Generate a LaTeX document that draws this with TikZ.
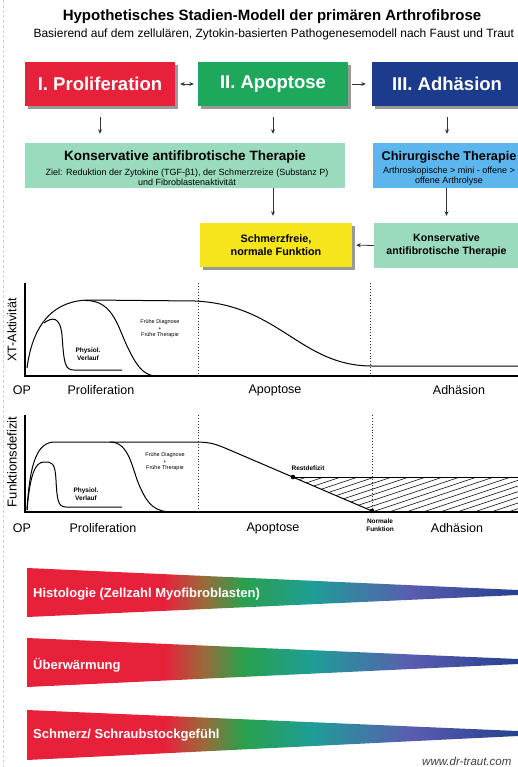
\documentclass[tikz,border=0pt]{standalone}
\usepackage{fontspec}
\setmainfont{Liberation Sans}
\usetikzlibrary{shadows,arrows.meta}
\definecolor{cred}{HTML}{E8213B}
\definecolor{cgreen}{HTML}{1DA85C}
\definecolor{cblue}{HTML}{1B3C8C}
\definecolor{cmint}{HTML}{9ADBBE}
\definecolor{clblue}{HTML}{5CB6EE}
\definecolor{cyellow}{HTML}{F6E51B}
\definecolor{gbrown}{HTML}{9A6A3A}
\definecolor{ggreen}{HTML}{2AA04C}
\definecolor{gteal}{HTML}{1E9E96}
\definecolor{gviolet}{HTML}{5A5DB0}
\definecolor{gdblue}{HTML}{27408F}
\pgfdeclarehorizontalshading{rainbowbar}{100bp}{color(0bp)=(cred); color(25bp)=(cred); color(39bp)=(cred); color(43bp)=(gbrown); color(47bp)=(ggreen); color(54bp)=(gteal); color(64bp)=(gviolet); color(75bp)=(gdblue); color(100bp)=(gdblue)}
\newcommand\fsz[2]{\fontsize{#1}{#2}\selectfont}
\begin{document}
\begin{tikzpicture}[x=1pt,y=-1pt,
  shad/.style={drop shadow={shadow xshift=3pt, shadow yshift=-3pt, fill=black!40, opacity=1}},
  stage/.style={shad, minimum width=150pt, minimum height=44pt, inner sep=0pt, text=white, font=\bfseries\fsz{18.5}{22}},
  therapy/.style={inner sep=0pt, align=center},
  arr/.style={-{Stealth[length=4.5pt,width=4pt]}, line width=0.8pt, draw=black!80},
  axisline/.style={line width=1.3pt},
  crv/.style={line width=1pt},
  vdot/.style={dotted, line width=0.9pt, black!80},
  axlab/.style={font=\fsz{12.5}{14}},
  tiny/.style={font=\fsz{5.5}{6.5}, align=center, inner sep=0pt},
  small/.style={font=\bfseries\fsz{6.5}{8}, align=center, inner sep=0pt},
  barlab/.style={anchor=west, text=white, font=\bfseries\fsz{13}{15}, inner sep=0pt}
]
\useasboundingbox (0,0) rectangle (518,767);
\clip (0,0) rectangle (518,767);
\fill[white] (0,0) rectangle (518,767);
\draw[gray!35, densely dashed] (3,0) -- (3,767);

% titles
\node[font=\bfseries\fsz{15}{18}] (title) at (272,17) {Hypothetisches Stadien-Modell der primären Arthrofibrose};
\node[font=\fsz{12}{14}, anchor=west] (sub) at (30,34) {Basierend auf dem zellulären, Zytokin-basierten Pathogenesemodell nach Faust und Traut};

% stage boxes
\node[stage, fill=cred] (s1) at (100,84) {I. Proliferation};
\node[stage, fill=cgreen] (s2) at (273,84) {II. Apoptose};
\node[stage, fill=cblue] (s3) at (447,84) {III. Adhäsion};
\draw[arr, {Stealth[length=4.5pt,width=4pt]}-{Stealth[length=4.5pt,width=4pt]}, shorten <=5pt, shorten >=4pt] (s1) -- (s2);
\draw[arr, shorten <=4pt, shorten >=6pt] (s2) -- (s3);

% therapy boxes
\node[therapy, fill=cmint, minimum width=320pt, minimum height=45pt] (k1) at (185,165.5) {};
\node[font=\bfseries\fsz{13.5}{16}] (k1t) at (185,157) {Konservative antifibrotische Therapie};
\node[font=\fsz{9}{10}, align=center] (k1s) at (187,177) {Ziel: Reduktion der Zytokine (TGF-β1), der Schmerzreize (Substanz P)\\und Fibroblastenaktivität};
\node[therapy, fill=clblue, minimum width=147pt, minimum height=45pt] (ch) at (446.5,165.5) {};
\node[font=\bfseries\fsz{12.7}{15}] (cht) at (449,157) {Chirurgische Therapie};
\node[font=\fsz{9}{10}, align=center] (chs) at (449,176) {Arthroskopische > mini - offene >\\offene Arthrolyse};

\draw[arr, shorten <=11pt, shorten >=9pt] (s1.south) -- (s1.south |- k1.north);
\draw[arr, shorten <=11pt, shorten >=9pt] (s2.south) -- (s2.south |- k1.north);
\draw[arr, shorten <=11pt, shorten >=9pt] (s3.south) -- (s3.south |- ch.north);

% result boxes
\node[shad, fill=cyellow, minimum width=152pt, minimum height=44pt, align=center, font=\bfseries\fsz{10.8}{13}] (yl) at (276,245) {Schmerzfreie,\\normale Funktion};
\node[fill=cmint, minimum width=145pt, minimum height=45pt, align=center, font=\bfseries\fsz{10.6}{13}] (k2) at (446.5,245.5) {Konservative\\antifibrotische Therapie};
\draw[arr, shorten >=7pt] (k1.south -| s2.south) -- (s2.south |- yl.north);
\draw[arr, shorten >=7pt] (ch.south) -- (k2.north);
\draw[arr, shorten >=4pt] (k2.west) -- (yl.east);

% ---------- chart 1 ----------
\coordinate (o1) at (25,376);
\draw[axisline] (25,283) -- (o1) -- (518,376);
\node[rotate=90, font=\fsz{12.5}{14}] (y1) at (12,330) {XT-Aktivität};
\draw[vdot] (198,283) -- (198,376);
\draw[vdot] (370,283) -- (370,376);
\draw[crv] (27,368) .. controls (33,322) and (55,300) .. (90,300) -- (195,301) .. controls (280,305) and (300,366) .. (372,366) -- (518,366);
\draw[crv] (85,300.5) .. controls (115,300) and (118,330) .. (130,352) .. controls (138,368) and (145,376) .. (157,376);
\draw[crv] (44,323) .. controls (52,317) and (60,316) .. (62,335) .. controls (64,364) and (65,370) .. (74,370) -- (122,370);
\node[small] (ph1) at (88,354) {Physiol.\\Verlauf};
\node[tiny] (fd1) at (160,329) {Frühe Diagnose\\+\\Frühe Therapie};
\node[axlab] (op1) at (22,390) {OP};
\node[axlab] (pr1) at (101,390) {Proliferation};
\node[axlab] (ap1) at (275,390) {Apoptose};
\node[axlab] (ad1) at (459,390) {Adhäsion};

% ---------- chart 2 ----------
\coordinate (o2) at (25,512);
\draw[axisline] (25,415) -- (o2) -- (518,512);
\node[rotate=90, font=\fsz{13}{15}] (y2) at (12,462) {Funktionsdefizit};
\draw[vdot] (198,415) -- (198,512);
\draw[vdot] (372,415) -- (372,512);
\begin{scope}
\clip (293,477) -- (518,477) -- (518,511) -- (372,511) -- cycle;
\foreach \i in {-12,...,18} \draw[line width=0.6pt] ({250+17*\i},530) -- ++(240,-80);
\end{scope}
\draw[line width=1pt] (293,477) -- (518,477);
\draw[crv] (27,510) .. controls (30,460) and (38,442) .. (55,442) -- (195,442) .. controls (210,442) and (215,444) .. (225,448) -- (372,511);
\draw[crv] (110,442) .. controls (130,442) and (132,470) .. (140,487) .. controls (148,505) and (155,512) .. (173,512);
\draw[crv] (27,510) .. controls (30,475) and (35,462) .. (44,462) .. controls (52,462) and (55,462) .. (56,480) .. controls (57,500) and (58,507) .. (66,507) -- (122,507);
\fill (293,477) circle (2.3pt) coordinate (rd);
\fill (372,511) circle (2.3pt) coordinate (nf);
\node[small] (rdt) at (308,468) {Restdefizit};
\node[small] (nft) at (380,525) {Normale\\Funktion};
\node[small] (ph2) at (86,494) {Physiol.\\Verlauf};
\node[tiny] (fd2) at (165,462) {Frühe Diagnose\\+\\Frühe Therapie};
\node[axlab] (op2) at (22,528) {OP};
\node[axlab] (pr2) at (103,528) {Proliferation};
\node[axlab] (ap2) at (273,528) {Apoptose};
\node[axlab] (ad2) at (457,528) {Adhäsion};

% ---------- gradient bars ----------
\shade[shading=rainbowbar] (27,568) -- (518,590) -- (518,595) -- (27,617) -- cycle;
\shade[shading=rainbowbar] (27,638) -- (518,659) -- (518,664) -- (27,687) -- cycle;
\shade[shading=rainbowbar] (27,710) -- (518,731) -- (518,736) -- (27,760) -- cycle;
\node[barlab] (b1) at (33,594) {Histologie (Zellzahl Myofibroblasten)};
\node[barlab] (b2) at (33,665) {Überwärmung};
\node[barlab] (b3) at (33,735) {Schmerz/ Schraubstockgefühl};
\node[anchor=west, font=\itshape\fsz{11.5}{13}, text=black!75, inner sep=0pt] (www) at (422,761) {www.dr-traut.com};
\end{tikzpicture}
\end{document}
